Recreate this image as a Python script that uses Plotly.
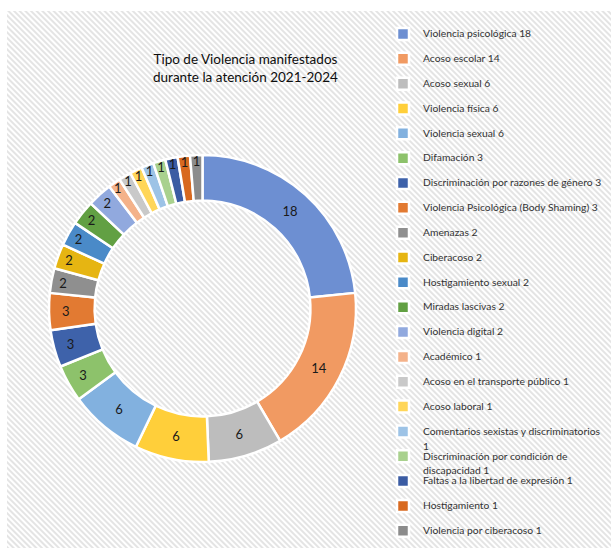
import base64
import plotly.graph_objects as go

# ---------------- data ----------------
categories = [
    "Violencia psicológica", "Acoso escolar ", "Acoso sexual", "Violencia física",
    "Violencia sexual", "Difamación", "Discriminación por razones de género",
    "Violencia Psicológica (Body Shaming)", "Amenazas", "Ciberacoso",
    "Hostigamiento sexual", "Miradas lascivas", "Violencia digital", "Académico",
    "Acoso en el transporte público", "Acoso laboral",
    "Comentarios sexistas y discriminatorios",
    "Discriminación por condición de discapacidad",
    "Faltas a la libertad de expresión", "Hostigamiento", "Violencia por ciberacoso",
]
values = [18, 14, 6, 6, 6, 3, 3, 3, 2, 2, 2, 2, 2, 1, 1, 1, 1, 1, 1, 1, 1]
colors = [
    "#6d8fd2", "#f19a62", "#bdbdbd", "#ffcf3a", "#82b1df", "#8dc26b",
    "#3e62aa", "#e27a32", "#8f8f8f", "#e6b512", "#4a8ac8", "#62a043",
    "#91a9de", "#f4b28a", "#c9c9c9", "#ffd659", "#9dc3e6", "#a9d18e",
    "#3b5ca3", "#d8691f", "#8c8c8c",
]
title_text = "Tipo de Violencia manifestados<br>durante la atención 2021-2024"

# ---------------- legend text (wrapped like the original) ----------------
FS = "font-size:10.3px"


def wrap(s, limit=40):
    if len(s) <= limit:
        return s, None
    cut = s.rfind(" ", 0, limit)
    return s[:cut], s[cut + 1:]


labels = []
for c, v in zip(categories, values):
    l1, l2 = wrap(f"{c.strip()} {v}")
    if l2 is None:
        second = f'<span style="{FS}">\u00a0</span>'
    else:
        second = f'<span style="{FS};baseline-shift:-4px">{l2}</span>'
    labels.append(f'<span style="{FS}">{l1}</span><br>{second}')

# ---------------- hatched background ----------------
W, H = 611, 548
svg = (
    f'<svg xmlns="http://www.w3.org/2000/svg" width="{W-7}" height="{H-11}">'
    '<defs><pattern id="p" width="4" height="4" patternUnits="userSpaceOnUse" '
    'patternTransform="rotate(-45)">'
    '<rect width="4" height="4" fill="#ffffff"/>'
    '<line x1="1" y1="0" x2="1" y2="4" stroke="#dedede" stroke-width="1.6"/>'
    '</pattern></defs>'
    '<rect width="100%" height="100%" fill="url(#p)"/></svg>'
)
bg_src = "data:image/svg+xml;base64," + base64.b64encode(svg.encode()).decode()

fig = go.Figure(
    go.Pie(
        labels=labels,
        values=values,
        sort=False,
        direction="clockwise",
        rotation=0,
        hole=0.703,
        marker=dict(colors=colors, line=dict(color="white", width=2.5)),
        textinfo="value",
        textposition="inside",
        insidetextorientation="horizontal",
        textfont=dict(family="Lato", size=13, color="#1a1a1a"),
        domain=dict(x=[49 / W, 356 / W], y=[86 / H, 393 / H]),
        hoverinfo="label+value",
    )
)

fig.update_layout(
    width=W,
    height=H,
    margin=dict(l=0, r=0, t=0, b=0, autoexpand=False),
    paper_bgcolor="white",
    plot_bgcolor="white",
    uniformtext=dict(minsize=13, mode="show"),
    showlegend=True,
    legend=dict(
        x=383 / W,
        xanchor="left",
        y=1 - 22 / H,
        yanchor="top",
        font=dict(family="Lato", size=8.4, color="#333333"),
        valign="top",
        bgcolor="rgba(0,0,0,0)",
        traceorder="normal",
    ),
    images=[
        dict(
            source=bg_src,
            xref="paper", yref="paper",
            x=7 / W, y=1 - 11 / H,
            sizex=(W - 7) / W, sizey=(H - 11) / H,
            xanchor="left", yanchor="top",
            sizing="stretch",
            layer="below",
        )
    ],
    annotations=[
        dict(
            text=title_text,
            x=245 / W, y=1 - 49 / H,
            xref="paper", yref="paper",
            xanchor="center", yanchor="top",
            showarrow=False,
            font=dict(family="Lato", size=13.5, color="#0d0d0d"),
            align="center",
        )
    ],
)

fig.write_html(
    "out.html",
    config={"displayModeBar": False},
    post_script="document.body.style.margin='0';document.body.style.padding='0';",
)
